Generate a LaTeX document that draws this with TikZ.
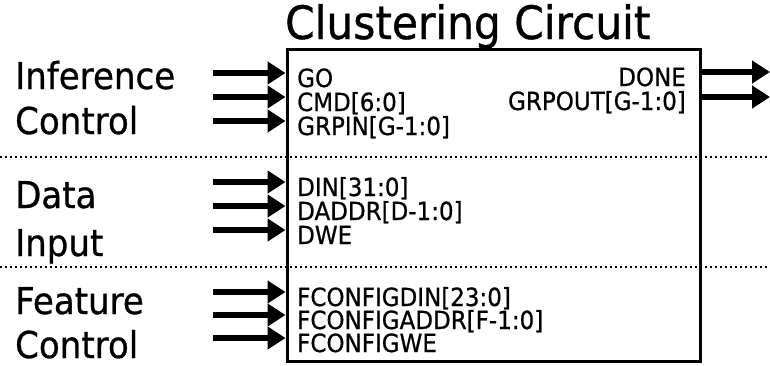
\documentclass[tikz,border=0pt]{standalone}
\usepackage{fontspec}
\setmainfont{DejaVu Sans}[FakeBold=0.8]
\usetikzlibrary{arrows.meta}
\begin{document}
\begin{tikzpicture}[x=1pt,y=-1pt,
  sig/.style={line width=6pt,-{Triangle[length=18pt,width=22pt]}},
  pin/.style={font=\fontsize{25}{25}\selectfont, xscale=0.92, inner sep=0pt},
  grp/.style={font=\fontsize{37}{37}\selectfont, xscale=0.92, inner sep=0pt, anchor=base west},
  sep/.style={line width=2pt, dash pattern=on 2pt off 3pt}]
\useasboundingbox (0,0) rectangle (770,365);
% separators
\draw[sep] (0,157) -- (770,157);
\draw[sep] (0,267) -- (770,267);
% box
\node[draw, line width=3pt, minimum width=413pt, minimum height=312pt, inner sep=0pt] (cc) at (493.5,205) {};
% title
\node[font=\fontsize{46}{46}\selectfont, xscale=0.92, anchor=base west, inner sep=0pt] (title) at (285,39) {Clustering Circuit};
% group labels
\node[grp] (inf) at (15,89) {Inference};
\node[grp] (infc) at (15,134) {Control};
\node[grp] (dat) at (15,208) {Data};
\node[grp] (dati) at (15,256) {Input};
\node[grp] (fea) at (15,314) {Feature};
\node[grp] (feac) at (15,358) {Control};
% input arrows
\foreach \n/\y in {a1/73,a2/97,a3/121,b1/182,b2/206,b3/230,c1/292,c2/315,c3/338}{
  \coordinate (\n) at (213,\y);
  \draw[sig] (\n) -- (\n -| cc.west);
}
% output arrows
\coordinate (o1) at (770,72);
\coordinate (o2) at (770,97);
\draw[sig] (cc.east |- o1) -- (o1);
\draw[sig] (cc.east |- o2) -- (o2);
% pin labels
\node[pin, anchor=base west] (go) at (297,87) {GO};
\node[pin, anchor=base west] (cmd) at (297,111) {CMD[6:0]};
\node[pin, anchor=base west] (grpin) at (297,135) {GRPIN[G-1:0]};
\node[pin, anchor=base west] (din) at (297,196) {DIN[31:0]};
\node[pin, anchor=base west] (daddr) at (297,220) {DADDR[D-1:0]};
\node[pin, anchor=base west] (dwe) at (297,244) {DWE};
\node[pin, anchor=base west] (fdin) at (297,306) {FCONFIGDIN[23:0]};
\node[pin, anchor=base west] (faddr) at (297,329) {FCONFIGADDR[F-1:0]};
\node[pin, anchor=base west] (fwe) at (297,352) {FCONFIGWE};
\node[pin, anchor=base east] (done) at (686,86) {DONE};
\node[pin, anchor=base east] (grpout) at (686,110) {GRPOUT[G-1:0]};
\end{tikzpicture}
\end{document}
